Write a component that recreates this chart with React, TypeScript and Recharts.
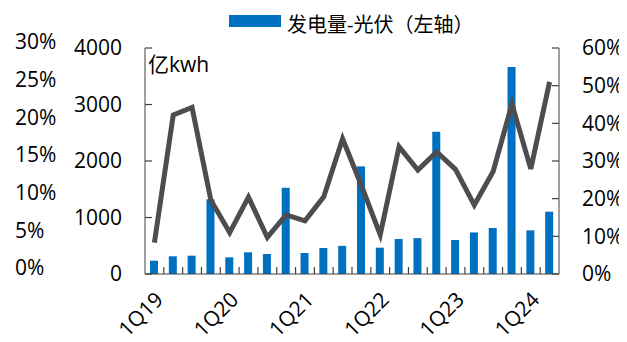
import React from 'react';
import { Bar, ComposedChart, Legend, Line, XAxis, YAxis } from 'recharts';

const quarters = [
  '1Q19', '2Q19', '3Q19', '4Q19', '1Q20', '2Q20', '3Q20', '4Q20',
  '1Q21', '2Q21', '3Q21', '4Q21', '1Q22', '2Q22', '3Q22', '4Q22',
  '1Q23', '2Q23', '3Q23', '4Q23', '1Q24', '2Q24',
];
// 发电量-光伏，亿kwh
const solarGen = [
  235, 313, 324, 1322, 295, 384, 354, 1528,
  372, 460, 498, 1905, 466, 620, 635, 2519,
  602, 735, 814, 3664, 773, 1103,
];
// grey line, right axis (%)
const shareLine = [
  8.3, 42.2, 44.2, 19.6, 11.0, 20.4, 9.7, 15.7,
  14.1, 20.5, 35.9, 23.5, 10.4, 33.8, 27.6, 32.4,
  27.8, 18.3, 27.2, 45.1, 27.9, 51.0,
];
const leftTicks = [0, 1000, 2000, 3000, 4000];
const rightTicks = [0, 10, 20, 30, 40, 50, 60];
const pctTicks = [0, 5, 10, 15, 20, 25, 30];

const data = quarters.map((q, i) => ({ q, gen: solarGen[i], share: shareLine[i] }));

const FONT = '"Open Sans", "Noto Sans CJK SC", sans-serif';
const AXIS = '#404040';
const BLUE = '#0070C0';

const W = 627;
const H = 342;
const LEFT_W = 85;
const PCT_W = 60;
const RIGHT_W = 68;
const GAP = 23;
const HALF_STEP = (W - LEFT_W - PCT_W - RIGHT_W) / quarters.length / 2;

const QuarterTick = (props: any) => {
  const { x, y, payload, index } = props;
  const half = typeof payload?.offset === 'number' && payload.offset > 0 ? payload.offset : HALF_STEP;
  const tx = x + 10;
  const ty = y + 27;
  return (
    <g>
      {index < quarters.length - 1 && (
        <path d={`M${x + half},${y}V${y - 7}`} stroke={AXIS} strokeWidth={1.2} fill="none" />
      )}
      {index % 4 === 0 && (
        <text
          x={tx}
          y={ty}
          textAnchor="end"
          transform={`rotate(-45, ${tx}, ${ty})`}
          fontSize={21}
          fontFamily={FONT}
          fill="#000"
        >
          {payload.value}
        </text>
      )}
    </g>
  );
};

const PctTick = (props: any) => {
  const { y, payload } = props;
  return (
    <text x={15} y={y - 6} dy="0.355em" textAnchor="start" fontSize={21} fontFamily={FONT} fill="#000">
      {payload.value}%
    </text>
  );
};

const ValueTick = (props: any) => {
  const { x, y, payload, side } = props;
  const axisX = side === 'right' ? x - GAP : x + GAP;
  const inner = side === 'right' ? axisX - 7 : axisX + 7;
  return (
    <g>
      <path d={`M${axisX},${y}H${inner}`} stroke={AXIS} strokeWidth={1.2} fill="none" />
      <text
        x={x}
        y={y}
        dy="0.355em"
        textAnchor={side === 'right' ? 'start' : 'end'}
        fontSize={21}
        fontFamily={FONT}
        fill="#000"
      >
        {side === 'right' ? `${payload.value}%` : payload.value}
      </text>
    </g>
  );
};

const LegendBox = () => (
  <div style={{ display: 'flex', alignItems: 'center', fontFamily: FONT, fontSize: 20, color: '#000' }}>
    <span style={{ display: 'inline-block', width: 52, height: 12, background: BLUE, marginRight: 6, marginTop: -6 }} />
    <span>发电量-光伏（左轴）</span>
  </div>
);

export default function App() {
  return (
    <div style={{ margin: -8, position: 'relative', width: W, height: H, background: '#fff' }}>
      <ComposedChart
        width={W}
        height={H}
        data={data}
        margin={{ top: 48, right: 0, bottom: 0, left: 0 }}
        barSize={8}
      >
        <XAxis
          dataKey="q"
          interval={0}
          tickSize={0}
          tickMargin={0}
          tickLine={false}
          height={68}
          stroke={AXIS}
          tick={<QuarterTick />}
        />
        <YAxis
          yAxisId="left"
          orientation="left"
          width={LEFT_W}
          domain={[0, 4000]}
          ticks={leftTicks}
          tickSize={0}
          tickMargin={GAP}
          tickLine={false}
          stroke={AXIS}
          tick={<ValueTick side="left" />}
        />
        <YAxis
          yAxisId="pct"
          orientation="left"
          width={PCT_W}
          domain={[0, 30]}
          allowDataOverflow
          ticks={pctTicks}
          axisLine={false}
          tickLine={false}
          tick={<PctTick />}
        />
        <YAxis
          yAxisId="right"
          orientation="right"
          width={RIGHT_W}
          domain={[0, 60]}
          ticks={rightTicks}
          tickSize={0}
          tickMargin={GAP}
          tickLine={false}
          stroke={AXIS}
          tick={<ValueTick side="right" />}
        />
        <Legend
          layout="horizontal"
          verticalAlign="middle"
          align="center"
          wrapperStyle={{ top: 9, left: 229, width: 380, height: 30 }}
          content={<LegendBox />}
        />
        <Bar yAxisId="left" dataKey="gen" name="发电量-光伏（左轴）" fill={BLUE} isAnimationActive={false} />
        <Line
          yAxisId="pct"
          dataKey="share"
          stroke="none"
          strokeWidth={0}
          dot={false}
          activeDot={false}
          legendType="none"
          isAnimationActive={false}
        />
        <Line
          yAxisId="right"
          dataKey="share"
          type="linear"
          stroke="#4D4D4F"
          strokeWidth={5}
          dot={false}
          legendType="none"
          isAnimationActive={false}
        />
      </ComposedChart>
      <svg width={120} height={40} style={{ position: 'absolute', left: 146, top: 45 }}>
        <text x={2} y={27} fontSize={21} fontFamily={FONT} fill="#000">亿kwh</text>
      </svg>
    </div>
  );
}
